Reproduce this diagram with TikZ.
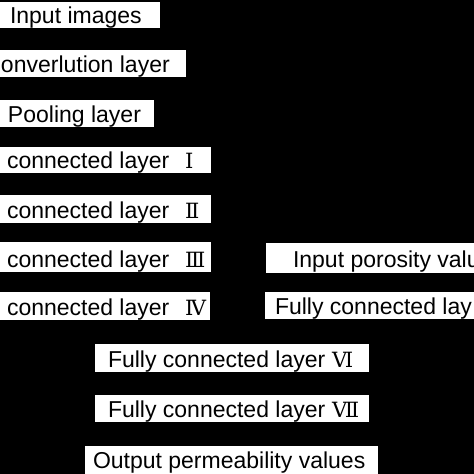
\documentclass[tikz,border=0pt]{standalone}
\usepackage{fontspec}
\setmainfont{Liberation Sans}
\newfontfamily\romfont{DejaVu Serif}
\tikzset{
  boxw/.style={fill=white, draw=none, inner sep=0pt, outer sep=0pt, anchor=north west},
  txt/.style={inner sep=0pt, outer sep=0pt, anchor=base west, font=\fontsize{23}{25}\selectfont, text=black},
  rom/.style={inner sep=0pt, outer sep=0pt, anchor=base west, font=\romfont\fontsize{21}{23}\selectfont, text=black}
}
\begin{document}
\begin{tikzpicture}[x=1pt,y=-1pt]
\fill[black] (0,0) rectangle (474,474);
\useasboundingbox (0,0) rectangle (474,474);
% boxes
\node[boxw, minimum width=160pt, minimum height=26pt] (b1) at (0,2) {};
\node[boxw, minimum width=186pt, minimum height=27pt] (b2) at (0,50) {};
\node[boxw, minimum width=154pt, minimum height=27pt] (b3) at (0,100) {};
\node[boxw, minimum width=211pt, minimum height=26pt] (b4) at (0,147) {};
\node[boxw, minimum width=211pt, minimum height=28pt] (b5) at (0,195) {};
\node[boxw, minimum width=211pt, minimum height=30pt] (b6) at (0,242) {};
\node[boxw, minimum width=210pt, minimum height=28pt] (b7) at (0,292) {};
\node[boxw, minimum width=208pt, minimum height=30pt] (b8) at (266,243) {};
\node[boxw, minimum width=209pt, minimum height=27pt] (b9) at (265,292) {};
\node[boxw, minimum width=274pt, minimum height=28pt] (b10) at (95,344) {};
\node[boxw, minimum width=274pt, minimum height=27pt] (b11) at (95,395) {};
\node[boxw, minimum width=293pt, minimum height=28pt] (b12) at (85,446) {};
% texts
\node[txt] (t1) at (10,23) {Input images};
\node[txt] (t2) at (1,72) {onverlution layer};
\node[txt] (t3) at (8,122) {Pooling layer};
\node[txt] (t4) at (7,168) {connected layer};
\node[rom] (r4) at (185,168) {Ⅰ};
\node[txt] (t5) at (7,218) {connected layer};
\node[rom] (r5) at (185,218) {Ⅱ};
\node[txt] (t6) at (7,267) {connected layer};
\node[rom] (r6) at (185,267) {Ⅲ};
\node[txt] (t7) at (7,315) {connected layer};
\node[rom] (r7) at (185,315) {Ⅳ};
\node[txt] (t8) at (293,267) {Input porosity valu};
\node[txt] (t9) at (275,314) {Fully connected lay};
\node[txt] (t10) at (108,367) {Fully connected layer};
\node[rom] (r10) at (332,367) {Ⅵ};
\node[txt] (t11) at (108,417) {Fully connected layer};
\node[rom] (r11) at (332,417) {Ⅶ};
\node[txt] (t12) at (93,468) {Output permeability values};
\end{tikzpicture}
\end{document}
